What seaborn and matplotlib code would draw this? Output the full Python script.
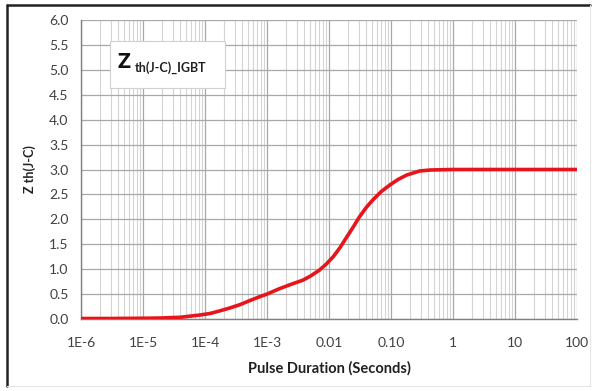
import matplotlib
matplotlib.use("Agg")
import matplotlib.pyplot as plt
import seaborn as sns
import pandas as pd
import numpy as np
from matplotlib.ticker import LogLocator, FixedLocator, FixedFormatter, MultipleLocator, NullFormatter
from matplotlib.patches import Rectangle

# Data
pulse_s = [1e-6, 3e-6, 1e-5, 2e-5, 4e-5, 8.3e-5, 1.2e-4, 1.7e-4, 2.5e-4, 3.7e-4, 5.3e-4, 7e-4,
           1e-3, 1.6e-3, 2.5e-3, 3.8e-3, 5e-3, 7e-3, 9e-3, 1.17e-2, 1.5e-2, 1.9e-2, 2.5e-2,
           3.1e-2, 4e-2, 5.1e-2, 7e-2, 9.6e-2, 0.13, 0.18, 0.29, 0.43, 1, 10, 100]
zth = [0.01, 0.01, 0.015, 0.02, 0.035, 0.08, 0.11, 0.16, 0.22, 0.29, 0.37, 0.43,
       0.5, 0.61, 0.7, 0.78, 0.86, 0.98, 1.1, 1.25, 1.43, 1.63, 1.86,
       2.05, 2.24, 2.39, 2.56, 2.69, 2.8, 2.89, 2.97, 2.99, 3.0, 3.0, 3.0]
xtick_vals = [1e-6, 1e-5, 1e-4, 1e-3, 1e-2, 1e-1, 1, 10, 100]
xtick_labels = ["1E-6", "1E-5", "1E-4", "1E-3", "0.01", "0.10", "1", "10", "100"]

df = pd.DataFrame({"Pulse Duration (Seconds)": pulse_s, "Zth": zth})

sns.set_style("white")
plt.rcParams['font.family'] = ['Lato', 'DejaVu Sans']

fig = plt.figure(figsize=(5.98, 3.91), dpi=100)
ax = fig.add_axes([81/598, 1-319/391, (577-81)/598, (319-20)/391])

sns.lineplot(data=df, x="Pulse Duration (Seconds)", y="Zth", ax=ax,
             color="#e8141c", linewidth=2.6, zorder=5)

ax.set_xscale("log")
ax.set_xlim(1e-6, 100)
ax.set_ylim(0, 6.0)

ax.xaxis.set_major_locator(FixedLocator(xtick_vals))
ax.xaxis.set_major_formatter(FixedFormatter(xtick_labels))
ax.xaxis.set_minor_locator(LogLocator(base=10, subs=np.arange(2, 10), numticks=100))
ax.xaxis.set_minor_formatter(NullFormatter())
ax.yaxis.set_major_locator(MultipleLocator(0.5))
ax.yaxis.set_major_formatter(matplotlib.ticker.FormatStrFormatter("%.1f"))

ax.grid(which="major", axis="both", color="#a8a8a8", linewidth=0.9)
ax.grid(which="minor", axis="x", color="#d4d4d4", linewidth=0.8)
ax.set_axisbelow(True)

for s in ["top", "right"]:
    ax.spines[s].set_visible(False)
for s in ["left", "bottom"]:
    ax.spines[s].set_color("#808080")
    ax.spines[s].set_linewidth(1.0)

ax.tick_params(axis="both", which="major", length=4, width=0.9, color="#808080",
               labelsize=10, labelcolor="#404040", direction="out")
ax.tick_params(axis="x", which="major", pad=9)
ax.tick_params(axis="y", which="major", pad=5)
ax.tick_params(axis="x", which="minor", length=0)

ax.set_xlabel("Pulse Duration (Seconds)", fontsize=10.5, fontweight="bold", color="#202020", labelpad=9)
ax.set_ylabel("Z th(J-C)", fontsize=9, fontweight="bold", color="#202020", labelpad=9)

# Title box inside the plot
box = Rectangle((110/598, 1-88/391), (225-110)/598, (88-41)/391, transform=fig.transFigure,
                facecolor="white", edgecolor="#d0d0d0", linewidth=0.8, zorder=10)
fig.patches.append(box)
fig.text(117/598, 1-63/391, "Z", fontsize=16, fontweight="bold", va="center", ha="left",
         color="#111111", zorder=11, family=["Open Sans", "DejaVu Sans"])
fig.text(135/598, 1-68/391, "th(J-C)_IGBT", fontsize=9, fontweight="bold", va="center", ha="left",
         color="#202020", zorder=11)

# Figure frame
fig.add_artist(plt.Line2D([7/598, 590/598], [1-5/391, 1-5/391], transform=fig.transFigure, color="#222222", linewidth=1.8))
fig.add_artist(plt.Line2D([7/598, 7/598], [1-5/391, 1-386/391], transform=fig.transFigure, color="#222222", linewidth=1.8))
fig.add_artist(plt.Line2D([590/598, 590/598], [1-5/391, 1-386/391], transform=fig.transFigure, color="#e6e6e6", linewidth=0.8))
fig.add_artist(plt.Line2D([7/598, 590/598], [1-386/391, 1-386/391], transform=fig.transFigure, color="#e6e6e6", linewidth=0.8))

fig.savefig("out.png", dpi=100)
